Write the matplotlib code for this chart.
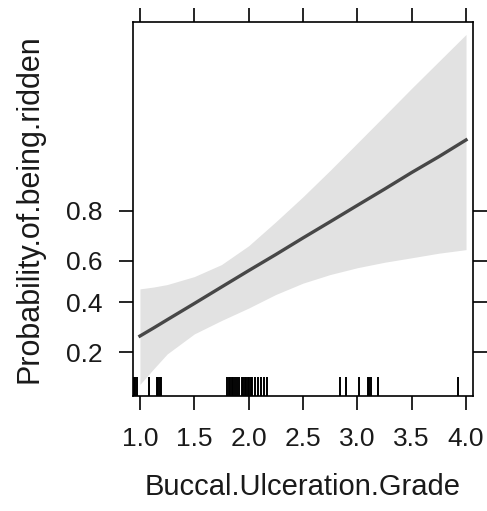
import matplotlib.pyplot as plt
from matplotlib.ticker import NullLocator

plt.rcParams['font.family'] = ['Liberation Sans', 'DejaVu Sans']

# effect of ulceration grade (probability scale)
grade = [1.0, 1.125, 1.25, 1.5, 1.75, 2.0, 2.25, 2.5, 2.75, 3.0, 3.25,
         3.5, 3.75, 4.0]
fit = [0.256, 0.287, 0.321, 0.394, 0.473, 0.553, 0.629, 0.701, 0.763,
       0.816, 0.859, 0.894, 0.920, 0.941]
lower = [0.118, 0.153, 0.195, 0.264, 0.318, 0.373, 0.437, 0.492, 0.534,
         0.567, 0.593, 0.614, 0.635, 0.651]
upper = [0.464, 0.473, 0.485, 0.524, 0.582, 0.668, 0.763, 0.840, 0.898,
         0.9375, 0.9624, 0.9777, 0.9867, 0.9921]

# jittered observations shown as a rug
rug_x = [0.945, 0.959, 0.972, 1.086, 1.156, 1.170, 1.184, 1.198,
         1.805, 1.819, 1.833, 1.846, 1.860, 1.874, 1.897, 1.911,
         1.938, 1.952, 1.966, 1.980, 1.994, 2.007, 2.021, 2.035,
         2.058, 2.083, 2.110, 2.141, 2.171,
         2.840, 2.892, 3.015, 3.098, 3.111, 3.125, 3.192, 3.928]

xticks = [1.0, 1.5, 2.0, 2.5, 3.0, 3.5, 4.0]
yticks = [0.2, 0.4, 0.6, 0.8]

txt = '#1a1a1a'

fig = plt.figure(figsize=(4.87, 5.11), dpi=100)
ax = fig.add_axes([0.273, 0.225, 0.698, 0.732])

ax.fill_between(grade, lower, upper, color='#e2e2e2', linewidth=0)
ax.plot(grade, fit, color='#474747', linewidth=2.4)
ax.vlines(rug_x, 0, 0.05, transform=ax.get_xaxis_transform(),
          color='black', linewidth=1.4)

ax.set_yscale('logit')
ax.set_xlim(0.9356, 4.063)
ax.set_ylim(0.0962, 0.9938)
ax.set_xticks(xticks)
ax.set_xticklabels([f'{v:.1f}' for v in xticks])
ax.set_yticks(yticks)
ax.set_yticklabels([f'{v:.1f}' for v in yticks])
ax.yaxis.set_minor_locator(NullLocator())
ax.xaxis.set_minor_locator(NullLocator())

ax.tick_params(direction='out', length=10, width=1.2, labelsize=19,
               pad=12, colors='black', labelcolor=txt,
               top=True, right=True, labeltop=False, labelright=False)
for s in ax.spines.values():
    s.set_linewidth(1.2)

ax.set_xlabel('Buccal.Ulceration.Grade', fontsize=21, color=txt, labelpad=16)
ax.set_ylabel('Probability.of.being.ridden', fontsize=22, color=txt, labelpad=15)

fig.savefig('out.png', dpi=100)
